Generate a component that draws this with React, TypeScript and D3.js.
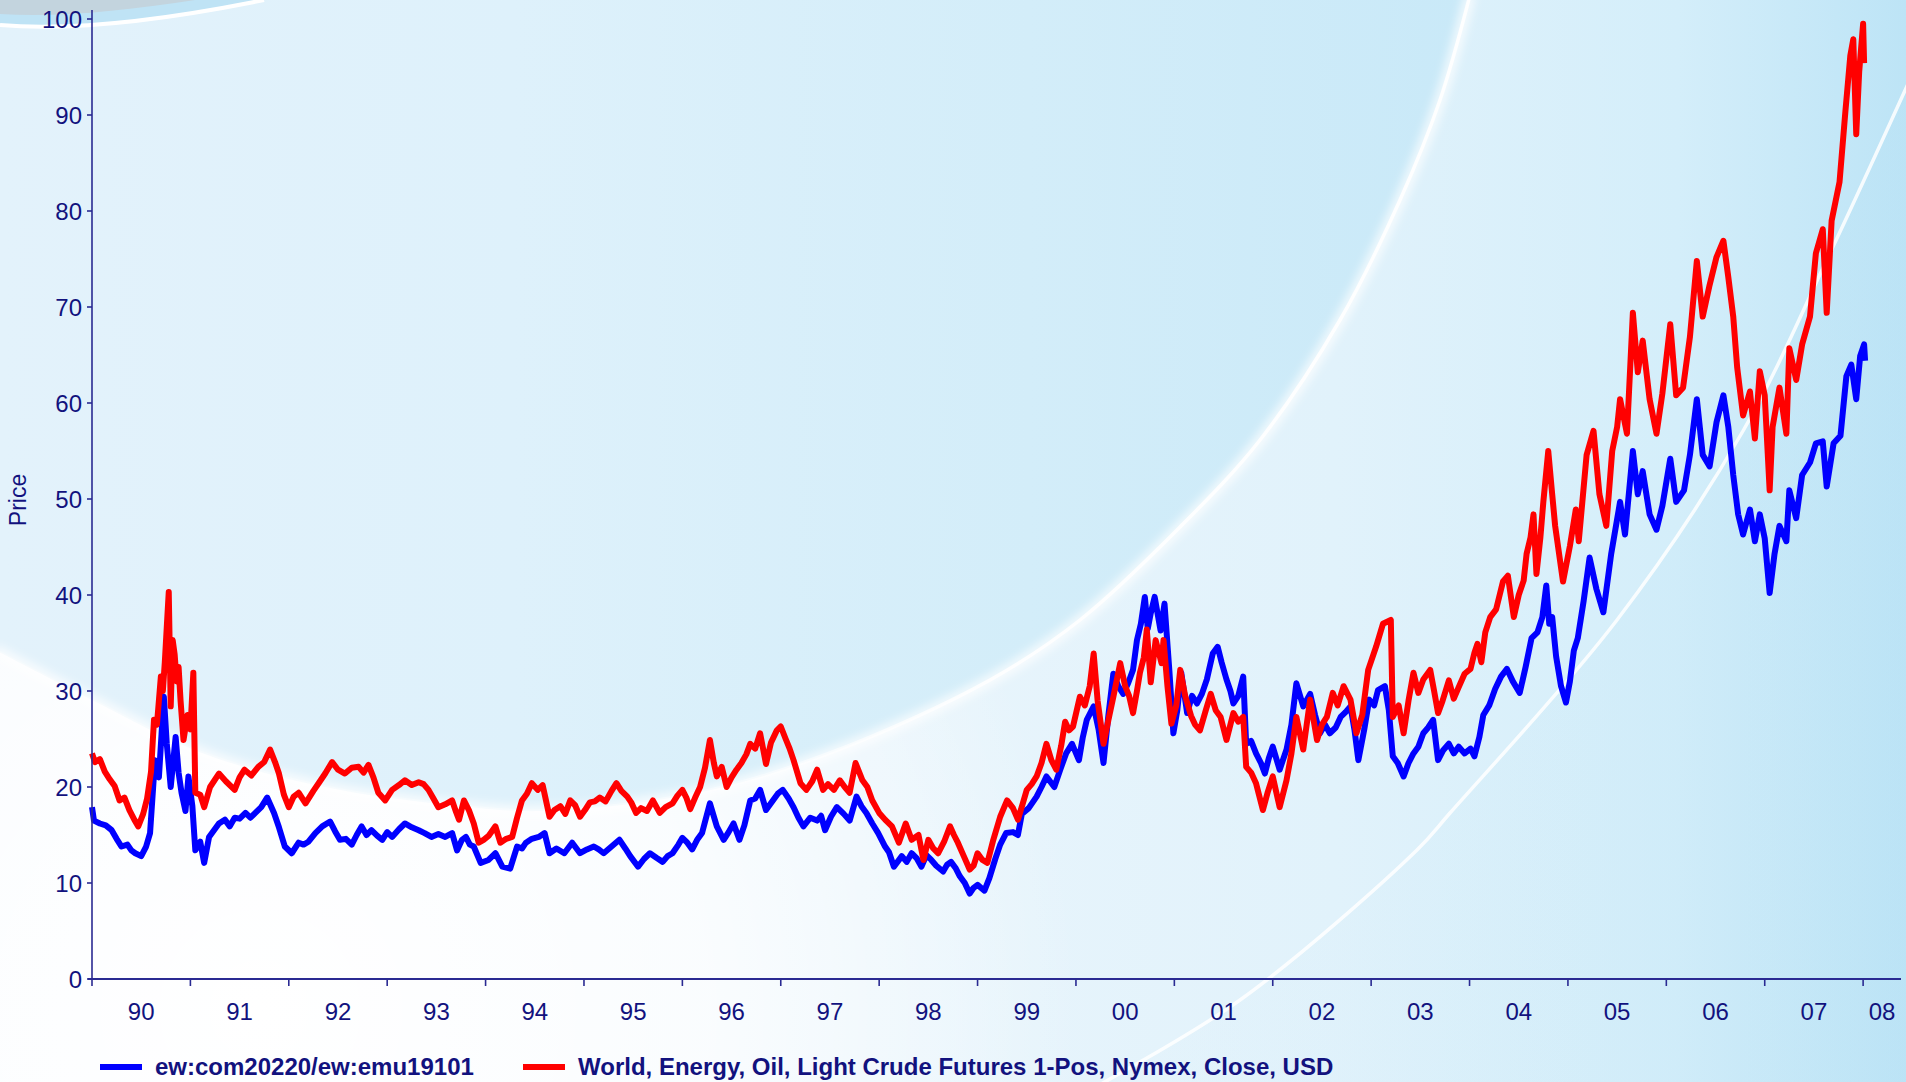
import React from "react";
import * as d3 from "d3";

// ---------- DATA ----------
const YEAR_TICKS = d3.range(1990, 2009);
const YEAR_LABELS = YEAR_TICKS.map((yr) => String(yr).slice(2));
const PRICE_TICKS = d3.range(0, 101, 10);
const X_DOMAIN: [number, number] = [1990, 2008.385];
const Y_DOMAIN: [number, number] = [0, 100];

// ew:com20220/ew:emu19101 (decimal year, price)
const blueSeries: [number, number][] = [
  [1990.0, 17.9], [1990.02, 16.5], [1990.08, 16.2], [1990.14, 16.0], [1990.2, 15.5], [1990.25, 14.6],
  [1990.3, 13.8], [1990.36, 14.0], [1990.4, 13.4], [1990.44, 13.1], [1990.5, 12.8], [1990.55, 13.8],
  [1990.59, 15.2], [1990.64, 22.8], [1990.68, 21.0], [1990.73, 29.4], [1990.76, 24.5], [1990.8, 20.0],
  [1990.85, 25.2], [1990.88, 21.5], [1990.91, 19.4], [1990.95, 17.5], [1990.98, 21.1], [1991.02, 18.0],
  [1991.05, 13.4], [1991.1, 14.3], [1991.14, 12.1], [1991.19, 14.8], [1991.24, 15.5], [1991.29, 16.2],
  [1991.35, 16.6], [1991.4, 15.9], [1991.45, 16.8], [1991.5, 16.7], [1991.56, 17.3], [1991.61, 16.8],
  [1991.66, 17.3], [1991.72, 17.9], [1991.78, 18.9], [1991.85, 17.3], [1991.9, 15.8], [1991.96, 13.8],
  [1992.03, 13.1], [1992.1, 14.2], [1992.15, 14.0], [1992.2, 14.3], [1992.27, 15.2], [1992.34, 15.9],
  [1992.42, 16.4], [1992.47, 15.4], [1992.52, 14.5], [1992.58, 14.6], [1992.64, 14.0], [1992.69, 15.0],
  [1992.74, 15.9], [1992.79, 15.0], [1992.84, 15.5], [1992.9, 14.9], [1992.95, 14.5], [1993.0, 15.3],
  [1993.05, 14.8], [1993.12, 15.6], [1993.18, 16.2], [1993.25, 15.8], [1993.32, 15.5], [1993.38, 15.2],
  [1993.45, 14.8], [1993.52, 15.1], [1993.59, 14.8], [1993.66, 15.2], [1993.71, 13.4], [1993.76, 14.5],
  [1993.8, 14.8], [1993.84, 14.0], [1993.88, 13.8], [1993.95, 12.1], [1994.03, 12.4], [1994.1, 13.1],
  [1994.17, 11.7], [1994.25, 11.5], [1994.32, 13.8], [1994.37, 13.6], [1994.41, 14.2], [1994.47, 14.6],
  [1994.54, 14.8], [1994.6, 15.2], [1994.65, 13.1], [1994.72, 13.6], [1994.8, 13.1], [1994.88, 14.2],
  [1994.96, 13.1], [1995.03, 13.5], [1995.1, 13.8], [1995.15, 13.5], [1995.2, 13.1], [1995.28, 13.8],
  [1995.36, 14.5], [1995.42, 13.6], [1995.47, 12.8], [1995.55, 11.7], [1995.61, 12.5], [1995.67, 13.1],
  [1995.74, 12.6], [1995.8, 12.2], [1995.85, 12.8], [1995.9, 13.1], [1995.96, 14.0], [1996.0, 14.7],
  [1996.05, 14.2], [1996.1, 13.5], [1996.15, 14.5], [1996.2, 15.2], [1996.28, 18.3], [1996.35, 15.9],
  [1996.42, 14.5], [1996.47, 15.3], [1996.52, 16.2], [1996.58, 14.5], [1996.63, 16.0], [1996.69, 18.6],
  [1996.74, 18.8], [1996.79, 19.7], [1996.85, 17.6], [1996.92, 18.6], [1996.97, 19.3], [1997.02, 19.7],
  [1997.08, 18.8], [1997.13, 17.9], [1997.18, 16.8], [1997.23, 15.9], [1997.3, 16.8], [1997.37, 16.5],
  [1997.41, 17.0], [1997.45, 15.5], [1997.51, 16.9], [1997.57, 17.9], [1997.64, 17.2], [1997.7, 16.5],
  [1997.77, 19.0], [1997.82, 18.0], [1997.87, 17.3], [1997.93, 16.2], [1997.99, 15.2], [1998.06, 13.8],
  [1998.1, 13.2], [1998.15, 11.7], [1998.23, 12.8], [1998.28, 12.2], [1998.33, 13.1], [1998.38, 12.6],
  [1998.43, 11.7], [1998.48, 12.9], [1998.53, 12.4], [1998.58, 11.8], [1998.65, 11.2], [1998.69, 11.9],
  [1998.73, 12.2], [1998.78, 11.5], [1998.82, 10.7], [1998.87, 10.0], [1998.92, 8.9], [1998.96, 9.5],
  [1999.0, 9.8], [1999.07, 9.2], [1999.12, 10.5], [1999.18, 12.5], [1999.23, 14.0], [1999.29, 15.2],
  [1999.36, 15.3], [1999.41, 15.0], [1999.45, 17.2], [1999.52, 17.8], [1999.6, 19.0], [1999.65, 20.0],
  [1999.7, 21.1], [1999.78, 20.0], [1999.84, 21.8], [1999.9, 23.5], [1999.96, 24.5], [2000.03, 22.8],
  [2000.07, 25.2], [2000.11, 27.0], [2000.18, 28.4], [2000.23, 26.0], [2000.28, 22.5], [2000.33, 27.5],
  [2000.38, 31.8], [2000.43, 30.5], [2000.48, 29.7], [2000.53, 30.8], [2000.58, 32.2], [2000.62, 35.3],
  [2000.66, 37.0], [2000.7, 39.8], [2000.73, 36.5], [2000.76, 38.1], [2000.8, 39.8], [2000.86, 36.3],
  [2000.9, 39.1], [2000.95, 32.0], [2000.99, 25.6], [2001.03, 28.0], [2001.07, 31.9], [2001.13, 27.7],
  [2001.18, 29.5], [2001.23, 28.7], [2001.28, 29.7], [2001.33, 31.2], [2001.39, 33.9], [2001.44, 34.6],
  [2001.48, 33.0], [2001.53, 31.2], [2001.57, 30.0], [2001.6, 28.7], [2001.65, 29.5], [2001.7, 31.5],
  [2001.73, 24.5], [2001.78, 24.8], [2001.83, 23.5], [2001.88, 22.5], [2001.92, 21.4], [2001.96, 23.0],
  [2002.0, 24.2], [2002.07, 21.8], [2002.14, 23.9], [2002.19, 26.5], [2002.24, 30.8], [2002.31, 28.4],
  [2002.38, 29.7], [2002.43, 27.5], [2002.48, 25.6], [2002.53, 26.5], [2002.58, 25.6], [2002.64, 26.2],
  [2002.69, 27.3], [2002.74, 27.8], [2002.79, 28.4], [2002.83, 26.0], [2002.87, 22.8], [2002.93, 26.0],
  [2002.98, 29.1], [2003.03, 28.5], [2003.07, 30.1], [2003.14, 30.5], [2003.18, 28.0], [2003.22, 23.2],
  [2003.27, 22.5], [2003.33, 21.1], [2003.38, 22.5], [2003.43, 23.5], [2003.48, 24.2], [2003.53, 25.6],
  [2003.58, 26.2], [2003.63, 27.0], [2003.68, 22.8], [2003.73, 23.8], [2003.79, 24.5], [2003.84, 23.5],
  [2003.89, 24.2], [2003.95, 23.5], [2004.01, 24.0], [2004.05, 23.2], [2004.1, 25.2], [2004.14, 27.5],
  [2004.2, 28.5], [2004.26, 30.2], [2004.32, 31.5], [2004.38, 32.3], [2004.44, 31.0], [2004.51, 29.8],
  [2004.57, 32.5], [2004.63, 35.5], [2004.69, 36.1], [2004.74, 37.7], [2004.78, 41.0], [2004.81, 37.0],
  [2004.84, 37.7], [2004.88, 33.6], [2004.93, 30.5], [2004.98, 28.8], [2005.02, 31.0], [2005.06, 34.2],
  [2005.1, 35.5], [2005.16, 39.4], [2005.22, 43.9], [2005.29, 40.6], [2005.36, 38.2], [2005.44, 44.3],
  [2005.53, 49.7], [2005.58, 46.3], [2005.66, 55.0], [2005.71, 50.5], [2005.76, 52.9], [2005.83, 48.4],
  [2005.9, 46.8], [2005.96, 49.3], [2006.04, 54.2], [2006.1, 49.7], [2006.18, 50.9], [2006.24, 54.6],
  [2006.31, 60.4], [2006.37, 54.6], [2006.44, 53.4], [2006.51, 58.0], [2006.58, 60.8], [2006.63, 57.5],
  [2006.68, 52.5], [2006.73, 48.4], [2006.78, 46.3], [2006.85, 48.9], [2006.9, 45.6], [2006.95, 48.4],
  [2007.0, 45.9], [2007.05, 40.2], [2007.1, 44.3], [2007.15, 47.2], [2007.22, 45.6], [2007.25, 50.9],
  [2007.32, 48.0], [2007.38, 52.5], [2007.46, 53.8], [2007.52, 55.8], [2007.59, 56.0], [2007.63, 51.3],
  [2007.7, 55.8], [2007.77, 56.6], [2007.83, 62.8], [2007.88, 64.0], [2007.93, 60.4], [2007.97, 64.9],
  [2008.01, 66.1], [2008.02, 64.4],
];

// World, Energy, Oil, Light Crude Futures 1-Pos, Nymex, Close, USD (decimal year, price)
const redSeries: [number, number][] = [
  [1990.0, 23.5], [1990.03, 22.6], [1990.08, 22.9], [1990.13, 21.6], [1990.18, 20.8], [1990.23, 20.1],
  [1990.28, 18.6], [1990.33, 18.9], [1990.38, 17.6], [1990.43, 16.6], [1990.47, 15.9], [1990.52, 17.2],
  [1990.56, 18.8], [1990.6, 21.6], [1990.63, 27.0], [1990.66, 26.5], [1990.7, 31.5], [1990.72, 30.0],
  [1990.74, 33.0], [1990.77, 38.5], [1990.78, 40.3], [1990.8, 28.4], [1990.82, 35.3], [1990.84, 33.8],
  [1990.86, 31.0], [1990.88, 32.5], [1990.9, 29.0], [1990.93, 24.9], [1990.97, 27.5], [1991.0, 26.0],
  [1991.03, 31.9], [1991.05, 19.4], [1991.1, 19.2], [1991.14, 17.9], [1991.2, 20.0], [1991.29, 21.4],
  [1991.36, 20.6], [1991.45, 19.7], [1991.5, 21.0], [1991.55, 21.8], [1991.62, 21.2], [1991.69, 22.1],
  [1991.75, 22.6], [1991.81, 23.9], [1991.86, 22.6], [1991.9, 21.4], [1991.95, 19.2], [1992.0, 17.9],
  [1992.05, 19.0], [1992.1, 19.4], [1992.17, 18.3], [1992.25, 19.6], [1992.31, 20.5], [1992.37, 21.4],
  [1992.44, 22.6], [1992.5, 21.8], [1992.57, 21.4], [1992.64, 22.0], [1992.71, 22.1], [1992.76, 21.5],
  [1992.81, 22.3], [1992.86, 21.0], [1992.91, 19.4], [1992.98, 18.6], [1993.05, 19.7], [1993.12, 20.2],
  [1993.18, 20.7], [1993.25, 20.2], [1993.32, 20.5], [1993.37, 20.3], [1993.42, 19.7], [1993.47, 18.8],
  [1993.52, 17.9], [1993.59, 18.2], [1993.66, 18.6], [1993.7, 17.4], [1993.73, 16.6], [1993.78, 18.6],
  [1993.83, 17.6], [1993.88, 16.2], [1993.93, 14.2], [1993.98, 14.5], [1994.03, 14.9], [1994.1, 15.9],
  [1994.15, 14.2], [1994.21, 14.6], [1994.27, 14.8], [1994.32, 16.8], [1994.37, 18.6], [1994.42, 19.3],
  [1994.47, 20.4], [1994.53, 19.7], [1994.58, 20.2], [1994.65, 16.9], [1994.7, 17.6], [1994.76, 18.0],
  [1994.81, 17.2], [1994.86, 18.6], [1994.91, 18.1], [1994.96, 16.9], [1995.01, 17.6], [1995.06, 18.4],
  [1995.11, 18.5], [1995.16, 18.9], [1995.22, 18.5], [1995.28, 19.6], [1995.33, 20.4], [1995.38, 19.6],
  [1995.44, 19.0], [1995.48, 18.4], [1995.53, 17.3], [1995.58, 17.8], [1995.64, 17.5], [1995.7, 18.6],
  [1995.77, 17.3], [1995.83, 17.9], [1995.9, 18.3], [1995.95, 19.1], [1996.0, 19.7], [1996.04, 18.9],
  [1996.08, 17.7], [1996.13, 18.9], [1996.18, 20.0], [1996.23, 22.0], [1996.28, 24.9], [1996.32, 22.5],
  [1996.35, 21.1], [1996.4, 22.1], [1996.45, 20.0], [1996.5, 21.0], [1996.55, 21.8], [1996.6, 22.5],
  [1996.65, 23.4], [1996.69, 24.5], [1996.74, 24.0], [1996.79, 25.6], [1996.85, 22.4], [1996.9, 24.6],
  [1996.96, 25.9], [1997.0, 26.3], [1997.05, 25.0], [1997.09, 24.0], [1997.13, 22.8], [1997.2, 20.4],
  [1997.26, 19.7], [1997.32, 20.6], [1997.37, 21.8], [1997.43, 19.7], [1997.48, 20.3], [1997.54, 19.7],
  [1997.6, 20.7], [1997.65, 20.0], [1997.7, 19.4], [1997.76, 22.5], [1997.83, 20.7], [1997.88, 20.0],
  [1997.93, 18.6], [1998.0, 17.3], [1998.06, 16.6], [1998.13, 15.9], [1998.2, 14.2], [1998.27, 16.2],
  [1998.33, 14.5], [1998.4, 15.0], [1998.45, 12.4], [1998.5, 14.5], [1998.55, 13.6], [1998.6, 13.1],
  [1998.66, 14.3], [1998.72, 15.9], [1998.76, 15.0], [1998.8, 14.2], [1998.86, 12.8], [1998.92, 11.4],
  [1998.96, 11.8], [1999.0, 13.1], [1999.05, 12.4], [1999.1, 12.1], [1999.16, 14.5], [1999.23, 16.9],
  [1999.3, 18.6], [1999.36, 17.8], [1999.41, 16.6], [1999.46, 18.3], [1999.5, 19.7], [1999.55, 20.3],
  [1999.6, 21.1], [1999.65, 22.5], [1999.7, 24.5], [1999.75, 22.8], [1999.8, 21.8], [1999.85, 24.3],
  [1999.89, 26.8], [1999.93, 25.9], [1999.97, 26.3], [2000.04, 29.4], [2000.09, 28.5], [2000.14, 30.5],
  [2000.18, 33.9], [2000.22, 29.0], [2000.28, 24.5], [2000.33, 27.0], [2000.38, 29.4], [2000.45, 32.9],
  [2000.5, 30.5], [2000.54, 29.5], [2000.58, 27.7], [2000.62, 30.0], [2000.65, 31.9], [2000.69, 33.5],
  [2000.72, 36.4], [2000.76, 30.9], [2000.81, 35.3], [2000.87, 32.9], [2000.89, 35.3], [2000.93, 30.5],
  [2000.97, 26.6], [2001.02, 28.5], [2001.06, 32.2], [2001.11, 29.5], [2001.17, 27.4], [2001.21, 26.5],
  [2001.26, 25.9], [2001.32, 28.0], [2001.37, 29.7], [2001.42, 28.0], [2001.47, 27.3], [2001.53, 24.9],
  [2001.57, 26.5], [2001.6, 27.7], [2001.65, 26.8], [2001.7, 27.3], [2001.73, 22.1], [2001.78, 21.5],
  [2001.83, 20.4], [2001.9, 17.6], [2001.95, 19.5], [2002.0, 21.1], [2002.07, 17.9], [2002.14, 20.7],
  [2002.19, 23.5], [2002.24, 27.3], [2002.31, 23.9], [2002.38, 29.1], [2002.45, 24.9], [2002.5, 26.5],
  [2002.55, 27.3], [2002.61, 29.8], [2002.66, 28.5], [2002.72, 30.5], [2002.79, 29.1], [2002.85, 25.6],
  [2002.91, 27.5], [2002.97, 32.2], [2003.05, 34.6], [2003.12, 37.0], [2003.2, 37.4], [2003.22, 27.3],
  [2003.28, 28.5], [2003.33, 25.6], [2003.38, 29.0], [2003.43, 31.9], [2003.48, 29.8], [2003.53, 31.2],
  [2003.6, 32.2], [2003.64, 30.0], [2003.68, 27.7], [2003.72, 28.8], [2003.79, 31.1], [2003.84, 29.2],
  [2003.89, 30.4], [2003.95, 31.8], [2004.01, 32.3], [2004.05, 34.0], [2004.08, 34.9], [2004.12, 33.0],
  [2004.16, 36.1], [2004.21, 37.7], [2004.27, 38.5], [2004.34, 41.4], [2004.39, 42.0], [2004.45, 37.7],
  [2004.5, 40.0], [2004.55, 41.5], [2004.58, 44.3], [2004.62, 46.0], [2004.65, 48.4], [2004.68, 42.2],
  [2004.72, 46.0], [2004.75, 49.7], [2004.8, 55.0], [2004.84, 50.5], [2004.87, 47.2], [2004.95, 41.4],
  [2005.02, 45.1], [2005.08, 48.9], [2005.11, 45.6], [2005.19, 54.6], [2005.26, 57.1], [2005.32, 50.5],
  [2005.39, 47.2], [2005.45, 55.0], [2005.5, 57.5], [2005.53, 60.4], [2005.6, 56.8], [2005.66, 69.4],
  [2005.71, 63.2], [2005.76, 66.5], [2005.83, 60.4], [2005.9, 56.8], [2005.96, 61.0], [2006.04, 68.2],
  [2006.1, 60.8], [2006.17, 61.6], [2006.24, 66.9], [2006.31, 74.8], [2006.37, 69.0], [2006.44, 72.3],
  [2006.51, 75.2], [2006.58, 76.9], [2006.63, 73.1], [2006.68, 69.0], [2006.72, 63.7], [2006.78, 58.7],
  [2006.85, 61.2], [2006.9, 56.3], [2006.95, 63.3], [2007.0, 60.8], [2007.05, 50.9], [2007.08, 57.5],
  [2007.15, 61.6], [2007.22, 56.8], [2007.25, 65.7], [2007.32, 62.4], [2007.38, 66.1], [2007.46, 69.0],
  [2007.52, 75.6], [2007.59, 78.1], [2007.63, 69.4], [2007.68, 79.0], [2007.76, 83.0], [2007.82, 90.4],
  [2007.87, 96.2], [2007.9, 97.9], [2007.93, 88.0], [2007.96, 94.5], [2008.0, 99.5], [2008.01, 95.4],
];

const SERIES_NAMES = ["ew:com20220/ew:emu19101", "World, Energy, Oil, Light Crude Futures 1-Pos, Nymex, Close, USD"];
const SERIES_COLORS = ["#0000ff", "#ff0000"];

// ---------- decoration (background shapes) ----------
const BIG_ARC: [number, number][] = [
  [-5, 650], [92, 700], [202, 753], [325, 787], [450, 805], [542, 811], [697, 793], [830, 753],
  [990, 680], [1080, 620], [1180, 527], [1260, 440], [1340, 320], [1400, 200], [1440, 100], [1470, -5],
];
const RIGHT_ARC: [number, number][] = [
  [1090, 1090], [1240, 1000], [1417, 850], [1450, 813], [1617, 620], [1743, 431], [1830, 253], [1912, 75],
];

export default function App() {
  const W = 1906;
  const H = 1082;
  const plot = { left: 92, right: 1901, top: 19, bottom: 979 };
  const x = d3.scaleLinear().domain(X_DOMAIN).range([plot.left, plot.right]);
  const y = d3.scaleLinear().domain(Y_DOMAIN).range([plot.bottom, plot.top]);
  const line = d3
    .line<[number, number]>()
    .x((d) => x(d[0]))
    .y((d) => y(d[1]));
  const curve = d3.line<[number, number]>().curve(d3.curveCatmullRom.alpha(0.5));

  const bigArcPath = curve(BIG_ARC) as string;
  const bigFill = "M-5,-5 L" + bigArcPath.slice(1) + " L1470,-5 Z";
  const rightArcPath = curve(RIGHT_ARC) as string;
  const rightFill = rightArcPath + " L1912,1090 Z";

  const font = "'Liberation Sans', Arial, Helvetica, sans-serif";
  const textColor = "#12127e";
  const axisColor = "#2a2a92";

  const labelX = (i: number) => {
    const a = x(YEAR_TICKS[i]);
    const b = i + 1 < YEAR_TICKS.length ? x(YEAR_TICKS[i + 1]) : plot.right;
    return (a + b) / 2;
  };

  const legendItems = [
    { name: SERIES_NAMES[0], color: SERIES_COLORS[0], x0: 100 },
    { name: SERIES_NAMES[1], color: SERIES_COLORS[1], x0: 523 },
  ];

  return (
    <svg
      width={W}
      height={H}
      viewBox={`0 0 ${W} ${H}`}
      style={{ position: "absolute", left: 0, top: 0, display: "block" }}
    >
      <defs>
        <linearGradient id="bgBase" x1="0" x2="1" y1="0" y2="0">
          <stop offset="0" stopColor="#eef6fd" />
          <stop offset="0.45" stopColor="#e9f5fc" />
          <stop offset="0.7" stopColor="#e1f2fb" />
          <stop offset="0.88" stopColor="#d4eefa" />
          <stop offset="1" stopColor="#bde4f6" />
        </linearGradient>
        <radialGradient id="glow" cx="260" cy="1010" r="820" gradientUnits="userSpaceOnUse">
          <stop offset="0" stopColor="#ffffff" stopOpacity="1" />
          <stop offset="0.55" stopColor="#ffffff" stopOpacity="0.75" />
          <stop offset="1" stopColor="#ffffff" stopOpacity="0" />
        </radialGradient>
        <linearGradient id="circle" x1="0" x2="1470" y1="0" y2="0" gradientUnits="userSpaceOnUse">
          <stop offset="0" stopColor="#e3f2fb" />
          <stop offset="0.35" stopColor="#def1fb" />
          <stop offset="0.7" stopColor="#d3edf9" />
          <stop offset="1" stopColor="#c9e9f8" />
        </linearGradient>
        <linearGradient id="arcStroke" x1="0" x2="1470" y1="0" y2="0" gradientUnits="userSpaceOnUse">
          <stop offset="0" stopColor="#ffffff" stopOpacity="0.25" />
          <stop offset="0.5" stopColor="#ffffff" stopOpacity="0.4" />
          <stop offset="0.68" stopColor="#ffffff" stopOpacity="0.9" />
          <stop offset="1" stopColor="#ffffff" stopOpacity="0.95" />
        </linearGradient>
        <linearGradient id="rightFill" x1="1100" x2="1906" y1="0" y2="0" gradientUnits="userSpaceOnUse">
          <stop offset="0" stopColor="#d9eff9" stopOpacity="0.0" />
          <stop offset="1" stopColor="#b9e2f5" stopOpacity="0.35" />
        </linearGradient>
        <filter id="soft" x="-10%" y="-10%" width="120%" height="120%">
          <feGaussianBlur stdDeviation="4" />
        </filter>
      </defs>

      {/* background */}
      <rect x={0} y={0} width={W} height={H} fill="url(#bgBase)" />
      <rect x={0} y={0} width={W} height={H} fill="url(#glow)" />
      <path d={rightFill} fill="url(#rightFill)" />
      <path d={bigFill} fill="url(#circle)" />
      <path d={bigArcPath} fill="none" stroke="#ffffff" strokeOpacity={0.7} strokeWidth={12} filter="url(#soft)" />
      <path d={bigArcPath} fill="none" stroke="url(#arcStroke)" strokeWidth={3.5} />
      <path d={rightArcPath} fill="none" stroke="#ffffff" strokeOpacity={0.85} strokeWidth={3.5} />
      {/* top-left corner ornament */}
      <path d="M0,0 L0,24 C70,30 160,20 262,0 Z" fill="#bfe3f5" />
      <path d="M0,0 L0,14 C60,18 130,10 195,0 Z" fill="#c3d4de" />
      <path d="M0,25 C70,31 160,21 264,0" fill="none" stroke="#ffffff" strokeWidth={4} />

      {/* series */}
      <path
        d={line(blueSeries) as string}
        fill="none"
        stroke={SERIES_COLORS[0]}
        strokeWidth={6}
        strokeLinejoin="round"
      />
      <path
        d={line(redSeries) as string}
        fill="none"
        stroke={SERIES_COLORS[1]}
        strokeWidth={6}
        strokeLinejoin="round"
      />

      {/* y axis */}
      <line x1={plot.left} x2={plot.left} y1={10} y2={plot.bottom} stroke={axisColor} strokeWidth={1.6} />
      {PRICE_TICKS.map((t) => (
        <g key={"y" + t}>
          <line x1={plot.left - 5} x2={plot.left} y1={y(t)} y2={y(t)} stroke={axisColor} strokeWidth={1.6} />
          <text
            x={plot.left - 10}
            y={y(t) + 8.5}
            textAnchor="end"
            fontFamily={font}
            fontSize={24}
            fill={textColor}
          >
            {t}
          </text>
        </g>
      ))}
      <text
        transform={`translate(26, ${(plot.top + plot.bottom) / 2 + 1}) rotate(-90)`}
        textAnchor="middle"
        fontFamily={font}
        fontSize={23}
        fill={textColor}
      >
        Price
      </text>

      {/* x axis */}
      <line x1={plot.left - 4} x2={plot.right} y1={plot.bottom} y2={plot.bottom} stroke={axisColor} strokeWidth={2} />
      {YEAR_TICKS.map((t) => (
        <line
          key={"xt" + t}
          x1={x(t)}
          x2={x(t)}
          y1={plot.bottom}
          y2={plot.bottom + 7}
          stroke={axisColor}
          strokeWidth={1.6}
        />
      ))}
      {YEAR_LABELS.map((lab, i) => (
        <text
          key={"xl" + lab}
          x={labelX(i)}
          y={1020}
          textAnchor="middle"
          fontFamily={font}
          fontSize={24}
          fill={textColor}
        >
          {lab}
        </text>
      ))}

      {/* legend */}
      {legendItems.map((it) => (
        <g key={it.name}>
          <line x1={it.x0} x2={it.x0 + 42} y1={1067} y2={1067} stroke={it.color} strokeWidth={6} />
          <text
            x={it.x0 + 55}
            y={1075}
            fontFamily={font}
            fontSize={24}
            fontWeight="bold"
            fill={textColor}
          >
            {it.name}
          </text>
        </g>
      ))}
    </svg>
  );
}
